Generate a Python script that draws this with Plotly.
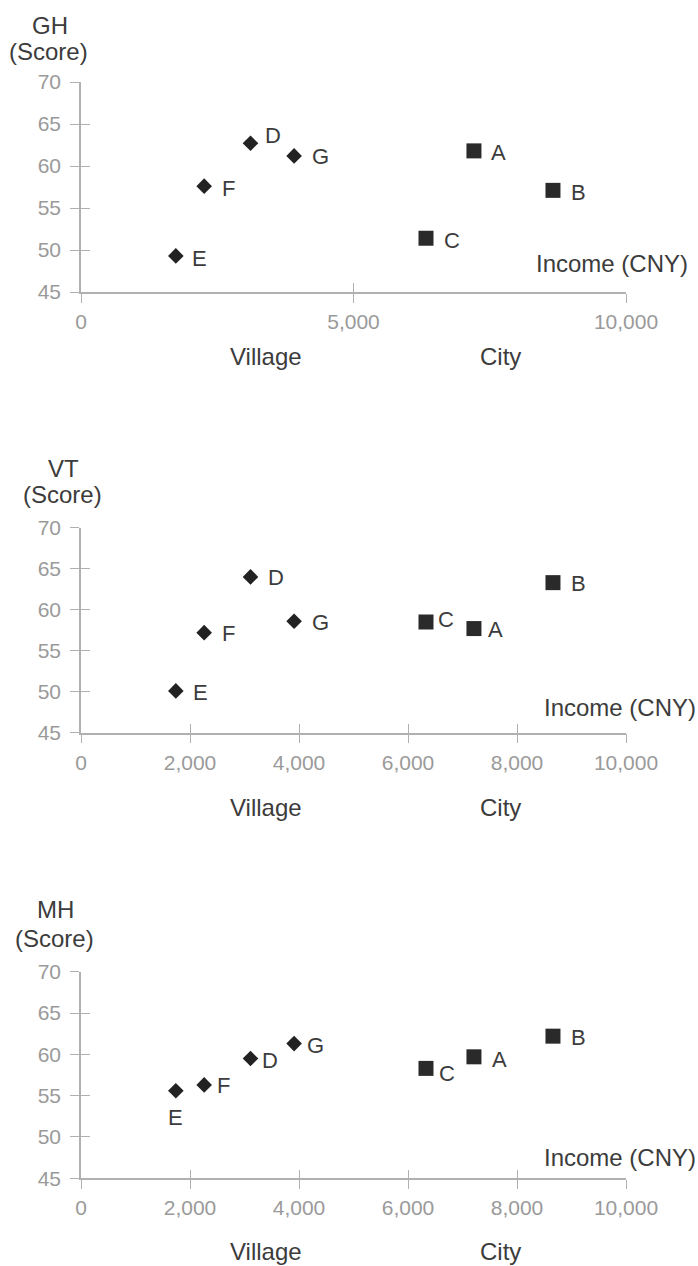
import plotly.graph_objects as go

W, H = 698, 1266

# ---- data ----
regions = ["A", "B", "C", "D", "E", "F", "G"]
region_type = ["City", "City", "City", "Village", "Village", "Village", "Village"]
income = [7210, 8660, 6330, 3110, 1740, 2260, 3910]
gh_score = [61.8, 57.1, 51.4, 62.7, 49.3, 57.6, 61.2]
vt_score = [57.7, 63.3, 58.5, 64.0, 50.1, 57.2, 58.6]
mh_score = [59.7, 62.2, 58.3, 59.5, 55.6, 56.3, 61.3]
panel_names = ["GH", "VT", "MH"]
y_ticks = [45, 50, 55, 60, 65, 70]
x_dticks = [5000, 2000, 2000]

# ---- style / layout (pixels) ----
FONT = "Liberation Sans"
AXIS_COLOR = "#b0b0b0"
TICK_FONT_COLOR = "#9a9a9a"
TEXT_COLOR = "#3c3c3c"
MARK_COLOR = "#222222"
x_px = (81, 626)
panels_px = [(82, 292), (527.7, 732.7), (971.7, 1178.3)]  # y of 70 and 45
title_px = [((50, 25), (48, 51)), ((63, 468), (62, 494)), ((55, 910), (54, 938))]
income_label_px = [(690, 263), (698, 707), (698, 1157)]
group_label_y = [357, 807, 1251]
village_x, city_x = 266, 500
# label offsets (dx, dy) in px per panel for A..G
label_offsets = [
    [(25, 2), (26, 2), (26, 2), (22, -8), (24, 3), (24, 2), (26, 1)],
    [(22, 1), (26, 1), (20, -3), (25, 1), (25, 2), (24, 1), (26, 1)],
    [(26, 3), (26, 1), (21, 5), (19, 2), (0, 27), (19, 1), (21, 2)],
]

def px2x(p):
    return p / W

def px2y(p):
    return 1 - p / H

fig = go.Figure()
scores = [gh_score, vt_score, mh_score]
annotations = []
layout = {}
for i, (sc, name) in enumerate(zip(scores, panel_names)):
    n = i + 1
    xa = "x" if n == 1 else f"x{n}"
    ya = "y" if n == 1 else f"y{n}"
    xo, yo = f"x{n+3}", f"y{n+3}"
    top, bot = panels_px[i]
    ydom = [px2y(bot), px2y(top)]
    xdom = [px2x(x_px[0]), px2x(x_px[1])]
    for kind, sym, size, col in [("Village", "diamond", 12, MARK_COLOR), ("City", "square", 15, "#2a2a2a")]:
        xs = [income[k] for k in range(len(regions)) if region_type[k] == kind]
        ys = [sc[k] for k in range(len(regions)) if region_type[k] == kind]
        fig.add_trace(go.Scatter(x=xs, y=ys, mode="markers", xaxis=xa, yaxis=ya,
                                 marker=dict(symbol=sym, size=size, color=col, line=dict(width=0)),
                                 showlegend=False, hoverinfo="skip", cliponaxis=False))
    # invisible trace on overlay axes (for inner ticks)
    fig.add_trace(go.Scatter(x=income, y=sc, mode="markers", xaxis=xo, yaxis=yo,
                             marker=dict(opacity=0), showlegend=False, hoverinfo="skip"))
    common_x = dict(domain=xdom, range=[0, 10000], dtick=x_dticks[i], tick0=0,
                    showgrid=False, zeroline=False, showline=True, linecolor=AXIS_COLOR,
                    linewidth=1.5, tickcolor=AXIS_COLOR, tickwidth=1.3, ticklen=9,
                    automargin=False)
    common_y = dict(domain=ydom, range=[45, 70], tickvals=y_ticks,
                    showgrid=False, zeroline=False, showline=True, linecolor=AXIS_COLOR,
                    linewidth=1.5, tickcolor=AXIS_COLOR, tickwidth=1.3, ticklen=9,
                    automargin=False)
    layout["xaxis" if n == 1 else f"xaxis{n}"] = dict(
        common_x, anchor=ya, ticks="outside", tickformat=",",
        tickfont=dict(family=FONT, size=21, color=TICK_FONT_COLOR), ticklabelstandoff=1)
    layout["yaxis" if n == 1 else f"yaxis{n}"] = dict(
        common_y, anchor=xa, ticks="outside",
        tickfont=dict(family=FONT, size=21, color=TICK_FONT_COLOR), ticklabelstandoff=5)
    layout[f"xaxis{n+3}"] = dict(common_x, anchor=yo, overlaying=xa, ticks="inside",
                                 showticklabels=False)
    layout[f"yaxis{n+3}"] = dict(common_y, anchor=xo, overlaying=ya, ticks="inside",
                                 showticklabels=False)
    # point labels
    for k, r in enumerate(regions):
        dx, dy = label_offsets[i][k]
        annotations.append(dict(x=income[k], y=sc[k], xref=xa, yref=ya, text=r,
                                showarrow=False, xshift=dx, yshift=-dy,
                                font=dict(family=FONT, size=22, color=TEXT_COLOR)))
    # titles
    (tx, ty), (sx, sy) = title_px[i]
    annotations.append(dict(x=px2x(tx), y=px2y(ty), xref="paper", yref="paper", text=name,
                            showarrow=False, xanchor="center", yanchor="middle",
                            font=dict(family=FONT, size=24, color=TEXT_COLOR)))
    annotations.append(dict(x=px2x(sx), y=px2y(sy), xref="paper", yref="paper", text="(Score)",
                            showarrow=False, xanchor="center", yanchor="middle",
                            font=dict(family=FONT, size=24, color=TEXT_COLOR)))
    ix, iy = income_label_px[i]
    annotations.append(dict(x=px2x(ix), y=px2y(iy), xref="paper", yref="paper", text="Income (CNY)",
                            showarrow=False, xanchor="right", yanchor="middle",
                            font=dict(family=FONT, size=24, color=TEXT_COLOR)))
    for lab, lx in [("Village", village_x), ("City", city_x)]:
        annotations.append(dict(x=px2x(lx), y=px2y(group_label_y[i]), xref="paper", yref="paper",
                                text=lab, showarrow=False, xanchor="center", yanchor="middle",
                                font=dict(family=FONT, size=24, color=TEXT_COLOR)))

fig.update_layout(width=W, height=H,
                  margin=dict(l=0, r=0, t=0, b=0, pad=0, autoexpand=False),
                  paper_bgcolor="white", plot_bgcolor="white",
                  annotations=annotations, **layout)
fig.write_html("out.html", config={"displayModeBar": False})
